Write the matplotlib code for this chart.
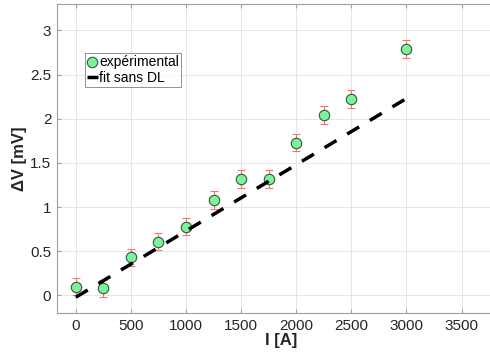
import matplotlib
matplotlib.use('Agg')
import matplotlib.pyplot as plt

# données mesurées
courant = [0, 250, 500, 750, 1000, 1250, 1500, 1750, 2000, 2250, 2500, 3000]
delta_v = [0.10, 0.08, 0.43, 0.61, 0.78, 1.08, 1.32, 1.32, 1.73, 2.04, 2.22, 2.79]
erreur = [0.1, 0.1, 0.1, 0.1, 0.1, 0.1, 0.1, 0.1, 0.1, 0.1, 0.1, 0.1]

# droite de fit
fit_i = [0, 3000]
fit_v = [-0.02, 2.23]

xticks = [0, 500, 1000, 1500, 2000, 2500, 3000, 3500]
yticks = [0, 0.5, 1, 1.5, 2, 2.5, 3]

plt.rcParams['font.family'] = ['Liberation Sans', 'DejaVu Sans']

fig = plt.figure(figsize=(4.9, 3.55), dpi=100)
ax = fig.add_axes([0.116, 0.118, 0.916, 0.871])

ax.errorbar(courant, delta_v, yerr=erreur, fmt='none', ecolor='#ff7070',
            elinewidth=0.8, capsize=3, capthick=0.8, zorder=2)
ax.plot(courant, delta_v, 'o', markersize=7.5, markerfacecolor='#7ef29a',
        markeredgecolor='#2f5a3a', markeredgewidth=0.8, label='expérimental', zorder=3)
ax.plot(fit_i, fit_v, '--', color='black', linewidth=2.5, dashes=(4, 3.6),
        label='fit sans DL', zorder=4)

ax.set_xlim(-172, 3900)
ax.set_ylim(-0.2, 3.3)
ax.set_xticks(xticks)
ax.set_yticks(yticks)
ax.set_yticklabels(['0', '0.5', '1', '1.5', '2', '2.5', '3'])
ax.grid(True, color='#e6e6e6', linewidth=0.7)
ax.set_axisbelow(True)

for s in ax.spines.values():
    s.set_color('#a0a0a0')
    s.set_linewidth(0.8)
ax.tick_params(direction='in', length=3, color='#a0a0a0', labelsize=11,
               labelcolor='#262626', top=True, right=True, pad=4)

ax.set_xlabel('I [A]', fontsize=12, fontweight='bold', color='#262626', labelpad=0)
ax.set_ylabel('ΔV [mV]', fontsize=12, fontweight='bold', color='#262626', labelpad=2)

leg = ax.legend(loc='upper left', bbox_to_anchor=(0.062, 0.84), fontsize=10,
                frameon=True, fancybox=False, edgecolor='#777777',
                handlelength=0.8, handletextpad=0.1, borderpad=0.15,
                labelspacing=0.1, borderaxespad=0, markerscale=1.0)
leg.get_frame().set_linewidth(0.7)

fig.savefig('out.png', dpi=100)
